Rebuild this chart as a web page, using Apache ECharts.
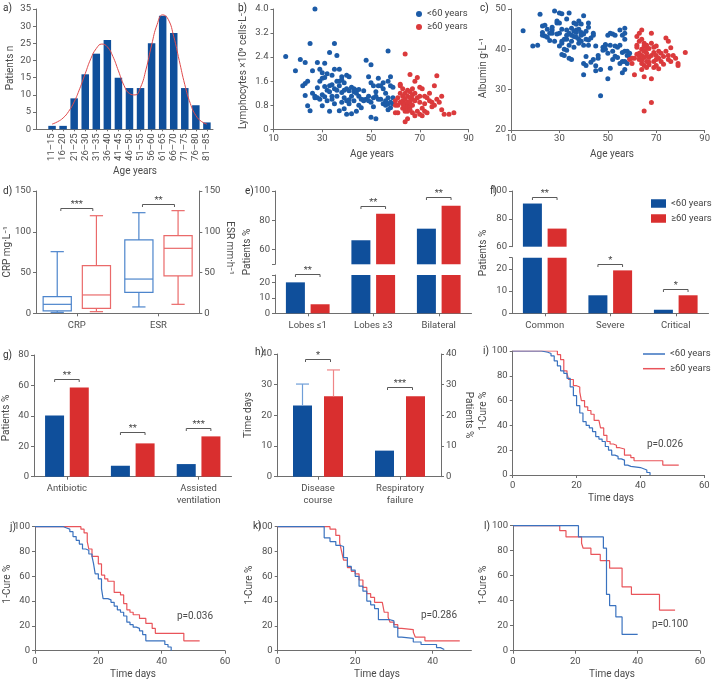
<!DOCTYPE html>
<html><head><meta charset="utf-8">
<script src="https://cdn.jsdelivr.net/npm/echarts@6/dist/echarts.min.js"></script>
<style>html,body{margin:0;padding:0;background:#fff}#c{width:713px;height:681px}</style>
</head><body><div id="c"></div>
<script>
// ---------------- data ----------------
const ageGroups = ['11–15','16–20','21–25','26–30','31–35','36–40','41–45','46–50','51–55','56–60','61–65','66–70','71–75','76–80','81–85'];
const ageCounts = [1,1,9,16,22,26,15,12,12,25,33,28,12,7,2];
// fitted curve (x = age-group index)
const ageCurve = [[0,1.5],[0.5,2.2],[1,3.3],[1.5,5.2],[2,8],[2.5,11.8],[3,16.2],[3.5,20.5],[4,23.5],[4.5,24.8],[5,24],[5.5,21.2],[6,17],[6.5,12.8],[7,10.4],[7.5,10],[8,12.2],[8.5,17.5],[9,24.5],[9.5,30.5],[10,33.3],[10.5,32],[11,27],[11.5,20],[12,13],[12.5,7.5],[13,4],[13.5,2.3],[14,1.5]];

const lymphYoung = [[15,2.42],[19,1.95],[21,2.32],[22,1.45],[23,1.52],[23,1.12],[23,2.22],[24,0.78],[24,1.6],[25,2.85],[25,0.62],[26,1.95],[26,1.2],[27,4.0],[27,1.1],[27,1.05],[28,1.38],[28,2.22],[28,1.05],[29,2.0],[29,1.0],[29,1.6],[30,1.88],[30,1.15],[30,0.78],[30,1.7],[31,2.2],[31,1.72],[31,1.42],[31,1.08],[32,1.85],[32,0.95],[32,1.3],[33,2.55],[33,1.25],[33,0.6],[33,1.45],[34,1.8],[34,1.0],[34,1.48],[34,1.1],[35,2.85],[35,1.35],[35,0.85],[35,2.0],[36,1.3],[36,2.45],[36,1.1],[36,1.6],[37,1.6],[37,2.0],[37,0.62],[37,1.45],[38,1.22],[38,0.9],[38,1.75],[38,1.65],[39,1.55],[39,1.05],[39,0.68],[39,1.3],[40,1.8],[40,0.5],[40,1.35],[40,0.95],[41,1.75],[41,1.28],[41,0.85],[41,0.98],[42,1.1],[42,1.4],[42,0.52],[43,1.35],[43,0.95],[43,1.25],[44,1.2],[44,0.6],[44,1.3],[45,1.32],[45,0.8],[45,1.1],[46,1.0],[46,0.72],[47,1.28],[47,0.95],[47,0.98],[48,2.3],[48,1.0],[49,1.75],[49,1.1],[49,0.95],[50,0.4],[50,2.15],[50,1.55],[50,0.9],[51,1.45],[51,0.75],[51,1.05],[52,0.35],[52,1.25],[52,1.1],[53,1.7],[53,1.0],[53,1.45],[54,1.45],[54,1.0],[55,1.35],[55,0.85],[55,1.55],[56,0.9],[56,1.2],[56,0.8],[56,0.95],[57,2.6],[57,0.65],[57,1.6],[57,1.05],[57,0.85],[58,1.75],[58,1.45],[58,0.9],[58,0.72],[59,1.4],[59,1.05],[59,0.85]];
const lymphOld = [[60,0.8],[60,0.95],[60,0.55],[61,1.05],[61,0.55],[61,0.8],[62,1.5],[62,0.9],[62,1.45],[62,1.2],[63,1.35],[63,0.85],[63,0.7],[63,1.1],[63,0.95],[64,2.5],[64,1.2],[64,0.25],[64,0.75],[64,1.0],[64,0.6],[64,0.85],[65,1.3],[65,0.85],[65,0.35],[65,0.6],[65,0.9],[65,1.1],[65,0.75],[66,1.82],[66,1.05],[66,0.75],[66,1.25],[66,0.65],[66,0.9],[67,1.35],[67,0.55],[67,1.0],[67,0.8],[67,1.15],[68,1.6],[68,0.95],[68,0.45],[68,1.2],[69,1.72],[69,0.6],[69,1.05],[70,1.4],[70,0.9],[70,0.5],[70,1.1],[71,1.35],[71,0.45],[71,0.7],[72,1.1],[72,0.85],[72,0.6],[73,1.05],[73,0.55],[74,0.95],[74,1.2],[75,0.75],[75,0.9],[76,1.45],[76,0.8],[77,1.78],[77,1.0],[78,0.9],[79,0.65],[79,1.1],[80,0.5],[82,0.5],[84,0.55]];

const albYoung = [[15,44.6],[19,40.8],[21,41],[22,48.7],[23,45.8],[23,44.2],[23,43.5],[24,46],[24,43.3],[25,45],[25,43],[26,44],[26,42.2],[27,45.5],[27,44.8],[27,44],[28,49.5],[28,42],[29,46.5],[29,47],[29,43.8],[30,49],[30,46.5],[30,44],[30,40.8],[31,48.8],[31,45],[31,41.5],[31,42],[31,38.7],[32,42.5],[32,40],[32,38.5],[33,47.5],[33,43.5],[33,44.8],[33,42.5],[33,39.8],[34,49],[34,44],[34,41],[34,37.8],[35,45.2],[35,43.5],[35,42],[35,37.5],[36,46.5],[36,44.5],[36,40.5],[36,43.2],[37,44.8],[37,43],[37,46.2],[37,44.2],[38,42.5],[38,45],[38,41.5],[38,47],[39,43.5],[39,42],[39,46.3],[39,44.2],[40,48.3],[40,43.8],[40,41],[40,36.5],[40,33.7],[41,42.5],[41,44.5],[41,36],[41,38.2],[42,46.5],[42,45.5],[42,41],[42,42.3],[43,36.8],[43,42.8],[44,44],[44,37.5],[44,43.5],[45,40.8],[45,35.9],[45,34.7],[46,38.5],[46,37.8],[47,28.5],[47,35],[48,40.5],[48,39.8],[49,40],[49,41],[49,41.2],[50,43.5],[50,39],[50,32.7],[51,44],[51,41],[51,35.3],[52,43.8],[52,39.5],[52,37.5],[53,40.8],[53,38.3],[53,43.5],[54,38],[54,40.5],[55,44.8],[55,36.5],[55,41],[56,43.5],[56,39.2],[56,34.2],[56,37],[57,45.2],[57,44],[57,42.5],[57,39.5],[57,37],[57,35],[58,38.5],[58,39.5],[58,36.5],[59,39],[59,38]];
const albOld = [[59,37.5],[60,37.8],[60,36.5],[61,33.7],[61,37.8],[62,43.2],[62,41],[62,40.5],[62,38.8],[63,44],[63,42],[63,39],[63,37.5],[63,38.3],[64,44.8],[64,42.5],[64,40],[64,38.5],[64,36.5],[64,35],[64,37.3],[65,41.5],[65,39.5],[65,38],[65,36],[65,33.2],[65,24.7],[65,40.8],[66,41],[66,39],[66,37],[66,35.5],[66,40.2],[66,38.3],[67,40.2],[67,38],[67,36.2],[67,36.8],[68,44],[68,41.5],[68,38.5],[68,32.7],[68,26.8],[69,40.5],[69,37],[69,35.5],[69,39.2],[70,40.8],[70,38.5],[70,36],[70,37.5],[71,39.5],[71,35.2],[71,37.8],[72,39],[72,37],[73,38.2],[73,36.3],[74,42.8],[74,39.5],[75,42],[75,38.5],[75,37.5],[76,40.4],[76,37],[77,38.5],[78,37.8],[79,36],[79,36.5],[82,39.2]];

const boxCats = ['CRP','ESR'];
// [min, Q1, median, Q3, max]
const boxYoung = [[1.2,2.9,11,20.4,75.6],[7.8,25.7,42,90,123.4]];
const boxOld = [[2,6.1,22.5,58.4,119.7],[11,45.8,79.7,95.2,125.9]];
const boxSig = [[0,128.8,'***'],[1,133.7,'**']];

const lobeCats = ['Lobes ≤1','Lobes ≥3','Bilateral'];
const lobeYoung = [20.2,66.4,74.3];
const lobeOld = [5.9,84.4,89.9];
const lobeSigTop = [[1,89.7,'**'],[2,96.1,'**']];
const lobeSigBottom = [[0,25.7,'**']];

const sevCats = ['Common','Severe','Critical'];
const sevYoung = [91,8.1,1.6];
const sevOld = [73,19.3,8.1];
const sevSigTop = [[0,95.7,'**']];
const sevSigBottom = [[1,22.1,'*'],[2,10.9,'*']];

const treatCats = ['Antibiotic','Corticosteroids','Assisted\nventilation'];
const treatYoung = [40.3,7.2,8.3];
const treatOld = [58.7,21.9,26.5];
const treatSig = [[0,64.4,'**'],[1,29.4,'**'],[2,31.8,'***']];

const outCats = ['Disease\ncourse','Respiratory\nfailure'];
const outYoung = [23.2,8.5];
const outOld = [26.2,26.2];
const outErrYoung = [30.2,null];
const outErrOld = [34.8,null];
const outSig = [[0,38.4,'*'],[1,29.3,'***']];

// Kaplan–Meier style curves [day, 1-cure %]
const kmIYoung = [[0,100],[9,99],[11,98],[12,96],[13,92],[14,88],[15,84],[16,82],[17,78],[18,71],[19,64],[20,56],[21,50],[22,43],[23,40],[24,38],[25,35],[26,31],[27,29],[28,27],[29,23],[30,20],[31,16],[32,15],[33,13],[34,12],[35,8],[36,7],[37,6],[40,5],[41,4],[42,2],[43,0]];
const kmIOld = [[0,100],[14,97],[15,93],[16,84],[17,82],[17.5,77],[19,72],[20,71],[21,67],[21.5,60],[22.5,55],[23.5,52],[24.5,49],[25.5,44],[27,44],[27.5,38],[28.5,32],[29.5,27],[30.5,25],[31.5,24],[32.5,22],[33.5,21],[35,16],[37,14],[38,11.5],[47,8],[52,8]];
const kmJYoung = [[0,100],[9,99],[10,98],[11,96],[12,92],[13,89],[14,86],[15,82],[16,81],[17,78],[18,76],[18.5,70],[19,62],[20,58],[21,50],[21.5,42],[23,41],[24,39],[25,36],[26,33],[27,31],[28,28],[29,23],[30,21],[31,19],[32,18],[33,16],[34,13],[35,8],[40,8],[41,5],[42,3],[43,0]];
const kmJOld = [[0,100],[14.5,98],[15.5,95],[16.5,88],[17,82],[18,76],[20,70],[21,61],[22,58],[23,56],[25,47],[27,45],[28,38],[29,33],[30,31],[31,29],[33,26],[35,22],[37,18],[38,14],[47,8],[52,8]];
const kmKYoung = [[0,100],[12,91],[13.5,88],[15,85],[16,84],[17,75],[18,68],[19,65],[20,60],[21,52],[22,48],[23,40],[24,37],[25,34],[26,25],[29,24],[30,19],[31,11],[32,10],[35,7],[37,5],[41,2.5],[42,1],[43,1]];
const kmKOld = [[0,100],[13.5,98],[15,93],[16,87],[16.5,80],[17,73],[18,67],[19,64],[20,62],[21,57],[22,51],[23,46],[24,43],[25,39],[27,39],[27.5,31],[28.5,27],[29,23],[30,21],[31,18],[32,17],[35,15],[35.5,11],[38,8],[47,8]];
const kmLYoung = [[0,100],[21,91],[29,82],[30,45],[31,36],[33,27],[35,13],[40,13]];
const kmLOld = [[0,100],[15,96],[17,91],[22,86],[22.5,82],[25,77],[28,72],[31,66],[35,51],[38,45],[47,32.5],[52,32.5]];
const pValues = ['p=0.026','p=0.036','p=0.286','p=0.100'];

// ---------------- styling ----------------
const FONT = 'Roboto, "Noto Sans", sans-serif';
const AXC = '#6e6e6e', TXC = '#4e4e4e';
const BLUE = '#0f4f9b', RED = '#d92f2f';
const SBLUE = '#1c5ba7', SRED = '#db3a3c';
const LBLUE = '#3a72bf', LRED = '#e9545a';
const BXB = '#4d85cc', BXR = '#ea6a6a';

function merge(a, b) {
  for (const k in b) {
    if (b[k] && typeof b[k] === 'object' && !Array.isArray(b[k]) && typeof b[k] !== 'function' && a[k] && typeof a[k] === 'object') merge(a[k], b[k]);
    else a[k] = b[k];
  }
  return a;
}
function axis(base, extra) {
  return merge(merge({
    axisLine: {show: true, onZero: false, lineStyle: {color: AXC, width: 1}},
    axisTick: {show: true, length: 3, lineStyle: {color: AXC, width: 1}},
    axisLabel: {color: TXC, fontSize: 9.5, fontFamily: FONT, margin: 5},
    splitLine: {show: false}
  }, base), extra || {});
}
function cat(grid, data, extra) {
  return axis({type: 'category', gridIndex: grid, data: data, boundaryGap: true},
    merge({axisTick: {alignWithLabel: true}, axisLabel: {lineHeight: 12, margin: 6}}, extra || {}));
}

const grids = [
  {left: 36, top: 9, width: 177, height: 120.3},          // a
  {left: 273.5, top: 9, width: 195, height: 120.3},       // b
  {left: 511, top: 9, width: 196, height: 121},           // c
  {left: 36, top: 191, width: 163.3, height: 122.3},      // d
  {left: 275, top: 191, width: 196.5, height: 73.3},      // e top
  {left: 275, top: 275, width: 196.5, height: 38.3},      // e bottom
  {left: 512, top: 191, width: 196.5, height: 55.7},      // f top
  {left: 512, top: 257.7, width: 196.5, height: 55.6},    // f bottom
  {left: 34, top: 355, width: 197.5, height: 121.7},      // g
  {left: 277, top: 354, width: 164, height: 122.7},       // h
  {left: 512.7, top: 351, width: 191.6, height: 124},     // i
  {left: 35, top: 526.7, width: 190, height: 124},        // j
  {left: 277.7, top: 526.7, width: 193.7, height: 124},   // k
  {left: 513, top: 525.7, width: 187, height: 125}        // l
];

const ageIdx = ageGroups.map((_, i) => i);

const xAxes = [
  axis({type: 'value', gridIndex: 0, min: -1.45, max: 14.55},
    {axisLabel: {rotate: 90, customValues: ageIdx, formatter: v => ageGroups[Math.round(v)], margin: 4}, axisTick: {customValues: ageIdx, length: 2}}),
  axis({type: 'value', gridIndex: 1, min: 10, max: 90, interval: 20}, {axisLabel: {margin: 4}}),
  axis({type: 'value', gridIndex: 2, min: 10, max: 90, interval: 20}, {axisLabel: {margin: 4}}),
  cat(3, boxCats),
  cat(4, lobeCats, {show: false}),
  cat(5, lobeCats),
  cat(6, sevCats, {show: false}),
  cat(7, sevCats),
  cat(8, treatCats),
  cat(9, outCats),
  axis({type: 'value', gridIndex: 10, min: 0, max: 60, interval: 20}, {axisLabel: {margin: 6}}),
  axis({type: 'value', gridIndex: 11, min: 0, max: 60, interval: 20}, {axisLabel: {margin: 6}}),
  axis({type: 'value', gridIndex: 12, min: 0, max: 50}, {axisLabel: {margin: 6, customValues: [0, 20, 40]}, axisTick: {customValues: [0, 20, 40]}}),
  axis({type: 'value', gridIndex: 13, min: 0, max: 60, interval: 20}, {axisLabel: {margin: 6}})
];

const yAxes = [
  axis({type: 'value', gridIndex: 0, min: 0, max: 35, interval: 5}),
  axis({type: 'value', gridIndex: 1, min: 0, max: 4, interval: 0.8}, {axisLabel: {formatter: v => v === 0 ? '0' : v.toFixed(1)}}),
  axis({type: 'value', gridIndex: 2, min: 20, max: 50, interval: 10}),
  axis({type: 'value', gridIndex: 3, min: 0, max: 150, interval: 50}),
  axis({type: 'value', gridIndex: 4, min: 50, max: 100}, {axisLabel: {customValues: [60, 80, 100]}, axisTick: {customValues: [50, 60, 80, 100]}}),
  axis({type: 'value', gridIndex: 5, min: 0, max: 25}, {axisLabel: {customValues: [0, 10, 20]}, axisTick: {customValues: [0, 10, 20, 25]}}),
  axis({type: 'value', gridIndex: 6, min: 60, max: 100, interval: 20}),
  axis({type: 'value', gridIndex: 7, min: 0, max: 25}, {axisLabel: {customValues: [0, 10, 20]}, axisTick: {customValues: [0, 10, 20, 25]}}),
  axis({type: 'value', gridIndex: 8, min: 0, max: 80, interval: 20}),
  axis({type: 'value', gridIndex: 9, min: 0, max: 40, interval: 10}),
  axis({type: 'value', gridIndex: 10, min: 0, max: 100, interval: 20}),
  axis({type: 'value', gridIndex: 11, min: 0, max: 100, interval: 20}),
  axis({type: 'value', gridIndex: 12, min: 0, max: 100, interval: 20}),
  axis({type: 'value', gridIndex: 13, min: 0, max: 100, interval: 20}),
  axis({type: 'value', gridIndex: 3, position: 'right', min: 0, max: 150, interval: 50}),   // 14: ESR
  axis({type: 'value', gridIndex: 9, position: 'right', min: 0, max: 40, interval: 10})     // 15: Patients %
];

// ---------------- helper series ----------------
function bracket(xi, yi, half, items) {
  return {
    type: 'custom', xAxisIndex: xi, yAxisIndex: yi, silent: true, z: 6, clip: false,
    data: items.map(d => [d[0], d[1]]),
    renderItem(params, api) {
      const p = api.coord([api.value(0), api.value(1)]);
      const y = Math.round(p[1]) + 0.5;
      const x1 = p[0] - half, x2 = p[0] + half;
      return {type: 'group', children: [
        {type: 'polyline', shape: {points: [[x1, y + 2.5], [x1, y], [x2, y], [x2, y + 2.5]]}, style: {stroke: '#5a5a5a', fill: null, lineWidth: 1}},
        {type: 'text', x: p[0], y: y - 4, style: {text: items[params.dataIndex][2], fill: '#444', fontSize: 9.5, fontFamily: FONT, align: 'center', verticalAlign: 'middle'}}
      ]};
    }
  };
}
function boxes(data, sign, color) {
  return {
    type: 'custom', xAxisIndex: 3, yAxisIndex: 3, silent: true, z: 3,
    data: data.map((d, i) => [i].concat(d)),
    encode: {x: 0, y: [1, 2, 3, 4, 5]},
    renderItem(params, api) {
      const ci = api.value(0);
      const band = api.size([1, 0])[0];
      const cx = api.coord([ci, 0])[0] + sign * band * 0.24;
      const w = band * 0.345, cw = w * 0.47;
      const Y = k => api.coord([ci, api.value(k)])[1];
      const ymin = Y(1), yq1 = Y(2), ymed = Y(3), yq3 = Y(4), ymax = Y(5);
      const st = {stroke: color, lineWidth: 1.2, fill: null};
      return {type: 'group', children: [
        {type: 'rect', shape: {x: cx - w / 2, y: yq3, width: w, height: yq1 - yq3}, style: st},
        {type: 'line', shape: {x1: cx - w / 2, y1: ymed, x2: cx + w / 2, y2: ymed}, style: st},
        {type: 'line', shape: {x1: cx, y1: yq3, x2: cx, y2: ymax}, style: st},
        {type: 'line', shape: {x1: cx, y1: yq1, x2: cx, y2: ymin}, style: st},
        {type: 'line', shape: {x1: cx - cw / 2, y1: ymax, x2: cx + cw / 2, y2: ymax}, style: st},
        {type: 'line', shape: {x1: cx - cw / 2, y1: ymin, x2: cx + cw / 2, y2: ymin}, style: st}
      ]};
    }
  };
}
const H_BAR_W = 19, H_BAR_GAP = 12;
function errBars(vals, errs, sign, color) {
  const d = [];
  vals.forEach((v, i) => { if (errs[i] != null) d.push([i, v, errs[i]]); });
  return {
    type: 'custom', xAxisIndex: 9, yAxisIndex: 9, silent: true, z: 4, data: d,
    renderItem(params, api) {
      const ci = api.value(0);
      const off = sign * (H_BAR_W + H_BAR_GAP) / 2;
      const p0 = api.coord([ci, api.value(1)]);
      const p1 = api.coord([ci, api.value(2)]);
      const x = p0[0] + off;
      const st = {stroke: color, lineWidth: 1.2, fill: null};
      return {type: 'group', children: [
        {type: 'line', shape: {x1: x, y1: p0[1], x2: x, y2: p1[1]}, style: st},
        {type: 'line', shape: {x1: x - 6.5, y1: p1[1], x2: x + 6.5, y2: p1[1]}, style: st}
      ]};
    }
  };
}
function bars(name, xi, yi, data, color, w, gap) {
  return {type: 'bar', name: name, xAxisIndex: xi, yAxisIndex: yi, data: data, barWidth: w || 19, barGap: gap || '30%', clip: true, itemStyle: {color: color}, silent: true};
}
function km(name, gi, data, color) {
  return {type: 'line', name: name, xAxisIndex: gi, yAxisIndex: gi, data: data, step: 'end', symbol: 'none', silent: true, lineStyle: {color: color, width: 1.2}, itemStyle: {color: color}};
}
function scatter(name, gi, data, color) {
  return {type: 'scatter', name: name, xAxisIndex: gi, yAxisIndex: gi, data: data, symbolSize: 5, silent: true, itemStyle: {color: color, opacity: 1}};
}

const series = [
  // a
  {type: 'bar', name: 'count', xAxisIndex: 0, yAxisIndex: 0, data: ageCounts.map((v, i) => [i, v]), barWidth: 7.5, itemStyle: {color: BLUE}, silent: true},
  {type: 'line', name: 'fit', xAxisIndex: 0, yAxisIndex: 0, data: ageCurve, smooth: 0.5, symbol: 'none', silent: true, z: 4, lineStyle: {color: '#e14a4c', width: 1}},
  // b, c
  scatter('<60 years', 1, lymphYoung, SBLUE),
  scatter('≥60 years', 1, lymphOld, SRED),
  scatter('c-young', 2, albYoung, SBLUE),
  scatter('c-old', 2, albOld, SRED),
  // d
  boxes(boxYoung, -1, BXB),
  boxes(boxOld, 1, BXR),
  bracket(3, 3, 16, boxSig),
  // e
  bars('<60 years', 4, 4, lobeYoung, BLUE),
  bars('≥60 years', 4, 4, lobeOld, RED),
  bars('<60 years', 5, 5, lobeYoung, BLUE),
  bars('≥60 years', 5, 5, lobeOld, RED),
  bracket(4, 4, 12.3, lobeSigTop),
  bracket(5, 5, 12.3, lobeSigBottom),
  // f
  bars('<60 years', 6, 6, sevYoung, BLUE),
  bars('≥60 years', 6, 6, sevOld, RED),
  bars('<60 years', 7, 7, sevYoung, BLUE),
  bars('≥60 years', 7, 7, sevOld, RED),
  bracket(6, 6, 12.3, sevSigTop),
  bracket(7, 7, 12.3, sevSigBottom),
  // g
  bars('<60 years', 8, 8, treatYoung, BLUE),
  bars('≥60 years', 8, 8, treatOld, RED),
  bracket(8, 8, 12.3, treatSig),
  // h
  bars('<60 years', 9, 9, outYoung, BLUE, H_BAR_W, (H_BAR_GAP / H_BAR_W * 100) + '%'),
  bars('≥60 years', 9, 9, outOld, RED, H_BAR_W, (H_BAR_GAP / H_BAR_W * 100) + '%'),
  errBars(outYoung, outErrYoung, -1, '#6f9ed8'),
  errBars(outOld, outErrOld, 1, '#ef8587'),
  bracket(9, 9, 12.5, outSig),
  // i-l
  km('≥60 years', 10, kmIOld, LRED), km('<60 years', 10, kmIYoung, LBLUE),
  km('≥60 years', 11, kmJOld, LRED), km('<60 years', 11, kmJYoung, LBLUE),
  km('≥60 years', 12, kmKOld, LRED), km('<60 years', 12, kmKYoung, LBLUE),
  km('≥60 years', 13, kmLOld, LRED), km('<60 years', 13, kmLYoung, LBLUE)
];

// ---------------- text ----------------
function T(text, x, y, rot, opt) {
  return merge({type: 'text', x: x, y: y, rotation: rot || 0, silent: true,
    style: {text: text, fill: '#4a4a4a', fontSize: 10, fontFamily: FONT, align: 'center', verticalAlign: 'middle'}}, opt || {});
}
const R = Math.PI / 2;
const L = {style: {align: 'left', fill: '#333'}};
const graphics = [
  T('a)', 3, 8, 0, L), T('b)', 238, 8, 0, L), T('c)', 480, 8, 0, L),
  T('d)', 3, 191, 0, L), T('e)', 245, 191, 0, L), T('f)', 490, 191, 0, L),
  T('g)', 3, 355, 0, L), T('h)', 255, 352, 0, L), T('i)', 483, 351, 0, L),
  T('j)', 10, 527, 0, L), T('k)', 253, 526, 0, L), T('l)', 484, 526, 0, L),
  T('Patients n', 10, 68, R), T('Age years', 135, 171),
  T('Lymphocytes ×10⁹ cells·L⁻¹', 243, 69, R), T('Age years', 372, 154),
  T('Albumin g·L⁻¹', 483, 68, R), T('Age years', 612, 154),
  T('CRP mg·L⁻¹', 7, 252, R), T('ESR mm·h⁻¹', 229, 248, -R),
  T('Patients %', 247, 252, R), T('Patients %', 483, 253, R),
  T('Patients %', 6, 418, R), T('Time days', 248, 415, R), T('Patients %', 468, 415, -R),
  T('1-Cure %', 483, 411, R), T('Time days', 611, 498),
  T('1-Cure %', 7, 584, R), T('Time days', 133, 674),
  T('1-Cure %', 249, 585, R), T('Time days', 377, 674),
  T('1-Cure %', 483, 585, R), T('Time days', 612, 674),
  T(pValues[0], 665, 444), T(pValues[1], 195, 616), T(pValues[2], 439, 615), T(pValues[3], 670, 624)
];

const legText = {fontSize: 9.5, color: '#444', fontFamily: FONT, lineHeight: 12};
const legends = [
  {left: 411, top: 3, orient: 'vertical', icon: 'circle', itemWidth: 6, itemHeight: 6, itemGap: 1, selectedMode: false, textStyle: legText,
    data: [{name: '<60 years', itemStyle: {color: SBLUE}}, {name: '≥60 years', itemStyle: {color: SRED}}]},
  {left: 646, top: 192.5, orient: 'vertical', icon: 'rect', itemWidth: 15, itemHeight: 8.5, itemGap: 3, selectedMode: false, textStyle: legText,
    data: [{name: '<60 years', itemStyle: {color: BLUE}}, {name: '≥60 years', itemStyle: {color: RED}}]},
  {left: 638, top: 343, orient: 'vertical', icon: 'rect', itemWidth: 22, itemHeight: 1.5, itemGap: 2.7, selectedMode: false, textStyle: legText,
    data: [{name: '<60 years', itemStyle: {color: LBLUE}}, {name: '≥60 years', itemStyle: {color: LRED}}]}
];

const chart = echarts.init(document.getElementById('c'), null, {renderer: 'canvas'});
chart.setOption({
  animation: false,
  backgroundColor: '#fff',
  textStyle: {fontFamily: FONT},
  grid: grids,
  xAxis: xAxes,
  yAxis: yAxes,
  legend: legends,
  series: series,
  graphic: graphics
});
</script></body></html>
